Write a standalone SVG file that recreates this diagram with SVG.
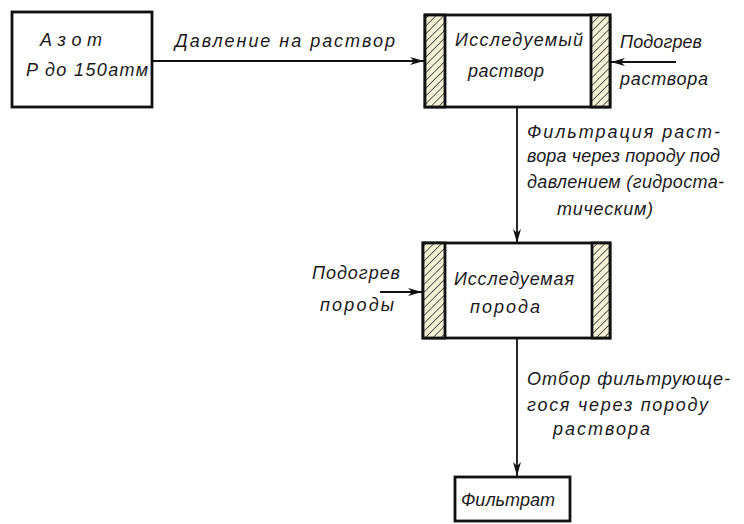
<svg xmlns="http://www.w3.org/2000/svg" width="744" height="524" viewBox="0 0 744 524">
<style>
.box{fill:#fff;stroke:#111;stroke-width:2.8}
.strip{fill:url(#hatch);stroke:#111;stroke-width:2.8}
.t{font-family:"Liberation Sans Narrow","Liberation Sans","DejaVu Sans",sans-serif;font-style:italic;font-size:18px;fill:#1a1a1a}
.ln{stroke:#111;stroke-width:1.8;fill:none}
</style>
<defs>
<pattern id="hatch" patternUnits="userSpaceOnUse" width="5.5" height="5.5" patternTransform="rotate(45)">
<rect width="5.5" height="5.5" fill="#f3f1d6"/>
<line x1="0" y1="0" x2="0" y2="5.5" stroke="#222" stroke-width="1.4"/>
</pattern>
<marker id="ah" viewBox="0 0 14 8" refX="14" refY="4" markerWidth="14" markerHeight="8" markerUnits="userSpaceOnUse" orient="auto">
<path d="M0,0 L14,4 L0,8 L4,4 Z" fill="#111"/>
</marker>
</defs>
<rect width="744" height="524" fill="#fff"/>

<g id="connectors">
<line class="ln" x1="152" y1="61" x2="424" y2="61" marker-end="url(#ah)"/>
<line class="ln" x1="676" y1="62" x2="611" y2="62" marker-end="url(#ah)"/>
<line class="ln" x1="517" y1="107" x2="517" y2="243" marker-end="url(#ah)"/>
<line class="ln" x1="380" y1="292" x2="422" y2="292" marker-end="url(#ah)"/>
<line class="ln" x1="517" y1="338" x2="517" y2="476" marker-end="url(#ah)"/>
</g>

<g id="azot">
<rect class="box" x="12" y="12" width="140" height="95"/>
<text class="t" x="40" y="46" textLength="62" lengthAdjust="spacing">Азот</text>
<text class="t" x="26" y="76" textLength="122" lengthAdjust="spacing">P до 150атм</text>
</g>

<g id="label-davlenie">
<text class="t" x="175" y="47" textLength="220" lengthAdjust="spacing">Давление на раствор</text>
</g>

<g id="rastvor">
<rect class="box" x="425" y="15" width="185" height="92"/>
<rect class="strip" x="425" y="15" width="20" height="92"/>
<rect class="strip" x="591" y="15" width="19" height="92"/>
<text class="t" x="455" y="46" textLength="128" lengthAdjust="spacing">Исследуемый</text>
<text class="t" x="468" y="77" textLength="76" lengthAdjust="spacing">раствор</text>
</g>

<g id="label-podogrev-rastvora">
<text class="t" x="620" y="48" textLength="82" lengthAdjust="spacing">Подогрев</text>
<text class="t" x="620" y="85" textLength="88" lengthAdjust="spacing">раствора</text>
</g>

<g id="label-filtraciya">
<text class="t" x="527" y="138" textLength="193" lengthAdjust="spacing">Фильтрация  раст-</text>
<text class="t" x="527" y="162" textLength="193" lengthAdjust="spacing">вора через породу под</text>
<text class="t" x="527" y="188" textLength="197" lengthAdjust="spacing">давлением (гидроста-</text>
<text class="t" x="557" y="215" textLength="96" lengthAdjust="spacing">тическим)</text>
</g>

<g id="poroda">
<rect class="box" x="423" y="243" width="187" height="95"/>
<rect class="strip" x="423" y="243" width="22" height="95"/>
<rect class="strip" x="592" y="243" width="18" height="95"/>
<text class="t" x="454" y="285" textLength="120" lengthAdjust="spacing">Исследуемая</text>
<text class="t" x="470" y="313" textLength="70" lengthAdjust="spacing">порода</text>
</g>

<g id="label-podogrev-porody">
<text class="t" x="312" y="279" textLength="88" lengthAdjust="spacing">Подогрев</text>
<text class="t" x="320" y="311" textLength="74" lengthAdjust="spacing">породы</text>
</g>

<g id="label-otbor">
<text class="t" x="527" y="385" textLength="203" lengthAdjust="spacing">Отбор  фильтрующе-</text>
<text class="t" x="527" y="411" textLength="181" lengthAdjust="spacing">гося  через породу</text>
<text class="t" x="553" y="435" textLength="97" lengthAdjust="spacing">раствора</text>
</g>

<g id="filtrat">
<rect class="box" x="455" y="477" width="115" height="44"/>
<text class="t" x="461" y="506" textLength="94" lengthAdjust="spacing">Фильтрат</text>
</g>
</svg>
